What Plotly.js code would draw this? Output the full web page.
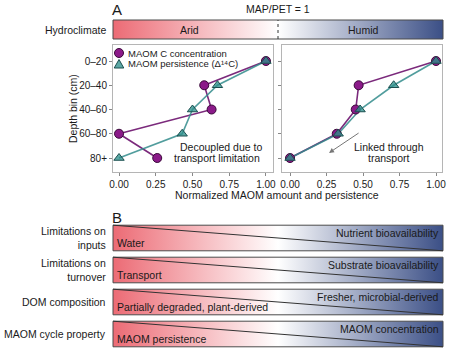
<!DOCTYPE html>
<html>
<head>
<meta charset="utf-8">
<script src="https://cdn.plot.ly/plotly-3.0.1.min.js"></script>
<style>html,body{margin:0;padding:0;background:#fff;}#chart{width:451px;height:355px;}</style>
</head>
<body>
<div id="chart"></div>
<script>
// ---------- DATA ----------
const depthBins = ['0–20', '20–40', '40–60', '60–80', '80+'];
const aridConcentration = [1.00, 0.58, 0.63, 0.00, 0.26];
const aridPersistence   = [1.00, 0.67, 0.50, 0.43, 0.00];
const humidConcentration = [1.00, 0.47, 0.45, 0.32, 0.00];
const humidPersistence   = [1.00, 0.71, 0.48, 0.33, 0.00];
const seriesNames = ['MAOM C concentration', 'MAOM persistence (Δ¹⁴C)'];
const xTicks = [0, 0.25, 0.5, 0.75, 1];
const xTickLabels = ['0.00', '0.25', '0.50', '0.75', '1.00'];
const climateLabels = ['Arid', 'Humid'];
const rowLabels = ['Limitations on<br>inputs', 'Limitations on<br>turnover', 'DOM composition', 'MAOM cycle property'];
const aridEndLabels = ['Water', 'Transport', 'Partially degraded, plant-derived', 'MAOM persistence'];
const humidEndLabels = ['Nutrient bioavailability', 'Substrate bioavailability', 'Fresher, microbial-derived', 'MAOM concentration'];

// ---------- STYLE ----------
const W = 451, H = 355;
const px = v => v / W;
const py = v => 1 - v / H;
const FONT = 'Arial, "Liberation Sans", sans-serif';
const gradScale = [[0, '#ec6b75'], [0.5, '#ffffff'], [1, '#3b4f86']];
const concColor = '#8b1a89', concEdge = '#3a0a3a';
const persColor = 'rgba(46,143,140,0.78)', persEdge = '#1b4f4f';

const traces = [];
function addSeries(xa, ya, conc, pers) {
  traces.push({type: 'scatter', mode: 'lines', x: conc, y: depthBins, xaxis: xa, yaxis: ya,
    line: {color: '#7b2a7c', width: 1.6}, showlegend: false, hoverinfo: 'skip'});
  traces.push({type: 'scatter', mode: 'lines', x: pers, y: depthBins, xaxis: xa, yaxis: ya,
    line: {color: 'rgba(50,140,140,0.85)', width: 1.6}, showlegend: false, hoverinfo: 'skip'});
  traces.push({type: 'scatter', mode: 'markers', name: seriesNames[0], x: conc, y: depthBins, xaxis: xa, yaxis: ya,
    marker: {symbol: 'circle', size: 9, color: concColor, line: {color: concEdge, width: 1}}, showlegend: false});
  traces.push({type: 'scatter', mode: 'markers', name: seriesNames[1], x: pers, y: depthBins, xaxis: xa, yaxis: ya,
    marker: {symbol: 'triangle-up', size: 9, color: persColor, line: {color: persEdge, width: 1}}, showlegend: false});
}
addSeries('x', 'y', aridConcentration, aridPersistence);
addSeries('x2', 'y5', humidConcentration, humidPersistence);

// hydroclimate gradient bar
traces.push({
  type: 'scatter', mode: 'lines', x: [0, 1, 1, 0, 0], y: [0, 0, 1, 1, 0], xaxis: 'x3', yaxis: 'y3',
  fill: 'toself', fillgradient: {type: 'horizontal', colorscale: gradScale},
  line: {color: '#4a4a4a', width: 1}, showlegend: false, hoverinfo: 'skip'
});
traces.push({
  type: 'scatter', mode: 'lines', x: [0.5, 0.5], y: [0, 1], xaxis: 'x3', yaxis: 'y3',
  line: {color: '#333', width: 1, dash: 'dot'}, showlegend: false, hoverinfo: 'skip'
});

// panel B gradient bars
rowLabels.forEach((lab, i) => {
  traces.push({
    type: 'scatter', mode: 'lines', x: [0, 1, 1, 0, 0], y: [i - 0.4, i - 0.4, i + 0.4, i + 0.4, i - 0.4],
    xaxis: 'x4', yaxis: 'y4', fill: 'toself', fillgradient: {type: 'horizontal', colorscale: gradScale},
    line: {color: '#4a4a4a', width: 1}, showlegend: false, hoverinfo: 'skip'
  });
  traces.push({
    type: 'scatter', mode: 'lines', x: [0, 1], y: [i - 0.4, i + 0.4], xaxis: 'x4', yaxis: 'y4',
    line: {color: '#333', width: 1}, showlegend: false, hoverinfo: 'skip'
  });
});

const txt = (size) => ({family: FONT, size: size || 10.5, color: '#1a1a1a'});
const annotations = [];
const note = (o) => annotations.push(Object.assign({showarrow: false, font: txt(), xanchor: 'center', yanchor: 'middle'}, o));
note({xref: 'paper', yref: 'paper', x: px(110), y: py(10), xanchor: 'left', text: 'A', font: txt(15)});
note({xref: 'paper', yref: 'paper', x: px(110), y: py(217), xanchor: 'left', text: 'B', font: txt(15)});
note({xref: 'paper', yref: 'paper', x: px(108), y: py(29.5), xanchor: 'right', text: 'Hydroclimate'});
note({xref: 'x3', yref: 'y3', x: 0.5, y: 1, yshift: 3, yanchor: 'bottom', text: 'MAP/PET = 1'});
note({xref: 'x3', yref: 'y3', x: 0.233, y: 0.5, text: climateLabels[0]});
note({xref: 'x3', yref: 'y3', x: 0.758, y: 0.5, text: climateLabels[1]});
// panel texts
note({xref: 'x', yref: 'y', x: 0.694, y: 3.546, text: 'Decoupled due to'});
note({xref: 'x', yref: 'y', x: 0.667, y: 4.0, text: 'transport limitation'});
note({xref: 'x2', yref: 'y5', x: 0.678, y: 3.546, text: 'Linked through'});
note({xref: 'x2', yref: 'y5', x: 0.678, y: 4.0, text: 'transport'});
annotations.push({xref: 'x2', yref: 'y5', x: 0.267, y: 3.79, axref: 'x2', ayref: 'y5', ax: 0.48, ay: 2.93,
  text: '', showarrow: true, arrowhead: 2, arrowsize: 1, arrowwidth: 1, arrowcolor: '#777', standoff: 0});
note({xref: 'paper', yref: 'paper', x: px(277), y: py(195), text: 'Normalized MAOM amount and persistence'});
note({xref: 'paper', yref: 'paper', x: px(73), y: py(109), text: 'Depth bin (cm)', textangle: -90});
// legend key texts
note({xref: 'paper', yref: 'paper', x: px(126), y: py(53), xanchor: 'left', text: seriesNames[0], font: txt(9.5)});
note({xref: 'paper', yref: 'paper', x: px(126), y: py(64), xanchor: 'left', text: seriesNames[1], font: txt(9.5)});
rowLabels.forEach((lab, i) => {
  note({xref: 'paper', yref: 'y4', x: px(108), y: i, xanchor: 'right', align: 'right', text: lab});
  note({xref: 'x4', yref: 'y4', x: 0, y: i + 0.4, xanchor: 'left', yanchor: 'bottom', xshift: 2, text: aridEndLabels[i]});
  note({xref: 'x4', yref: 'y4', x: 1, y: i - 0.4, xanchor: 'right', yanchor: 'top', xshift: -2, text: humidEndLabels[i]});
});

// legend key symbols
const shapes = [
  {type: 'circle', xref: 'paper', yref: 'paper', x0: px(114.5), x1: px(123.5), y0: py(57.5), y1: py(48.5),
   fillcolor: concColor, line: {color: concEdge, width: 1}},
  {type: 'path', xref: 'paper', yref: 'paper',
   path: `M ${px(119)} ${py(59.5)} L ${px(123.8)} ${py(68)} L ${px(114.2)} ${py(68)} Z`,
   fillcolor: persColor, line: {color: persEdge, width: 1}}
];

const panelX = (dom, range, anchor) => ({
  domain: dom, range: range, tickmode: 'array', tickvals: xTicks, ticktext: xTickLabels,
  showgrid: false, zeroline: false, showline: true, mirror: true, linecolor: '#b5b5b5', linewidth: 1,
  ticks: 'outside', ticklen: 3, tickcolor: '#888', tickfont: {family: FONT, size: 10, color: '#1a1a1a'}, anchor: anchor
});
const panelY = (anchor, labels) => ({
  domain: [py(172), py(45)], type: 'category', categoryorder: 'array', categoryarray: depthBins,
  range: [4.577, -0.66], showgrid: false, zeroline: false, showline: true, mirror: true,
  linecolor: '#b5b5b5', linewidth: 1, ticks: 'outside', ticklen: 3, tickcolor: '#888',
  showticklabels: labels, tickfont: {family: FONT, size: 10, color: '#1a1a1a'}, anchor: anchor
});
const hidden = (dom, range, anchor) => ({domain: dom, range: range, visible: false, fixedrange: true, anchor: anchor});

const layout = {
  width: W, height: H, margin: {l: 0, r: 0, t: 0, b: 0},
  paper_bgcolor: '#fff', plot_bgcolor: 'rgba(0,0,0,0)',
  font: {family: FONT, size: 10, color: '#1a1a1a'},
  showlegend: false,
  xaxis: panelX([px(113), px(273)], [-0.041, 1.048], 'y'),
  xaxis2: panelX([px(282), px(442)], [-0.055, 1.041], 'y5'),
  yaxis: panelY('x', true),
  yaxis5: panelY('x2', false),
  xaxis3: hidden([px(111), px(445)], [-0.00606, 1.00606], 'y3'),
  yaxis3: hidden([py(41), py(18)], [-0.105, 1.105], 'x3'),
  xaxis4: hidden([px(111), px(445)], [-0.00606, 1.00606], 'y4'),
  yaxis4: hidden([py(350), py(222)], [3.5, -0.5], 'x4'),
  annotations: annotations,
  shapes: shapes
};

Plotly.newPlot('chart', traces, layout, {staticPlot: true, displayModeBar: false});
</script>
</body>
</html>
